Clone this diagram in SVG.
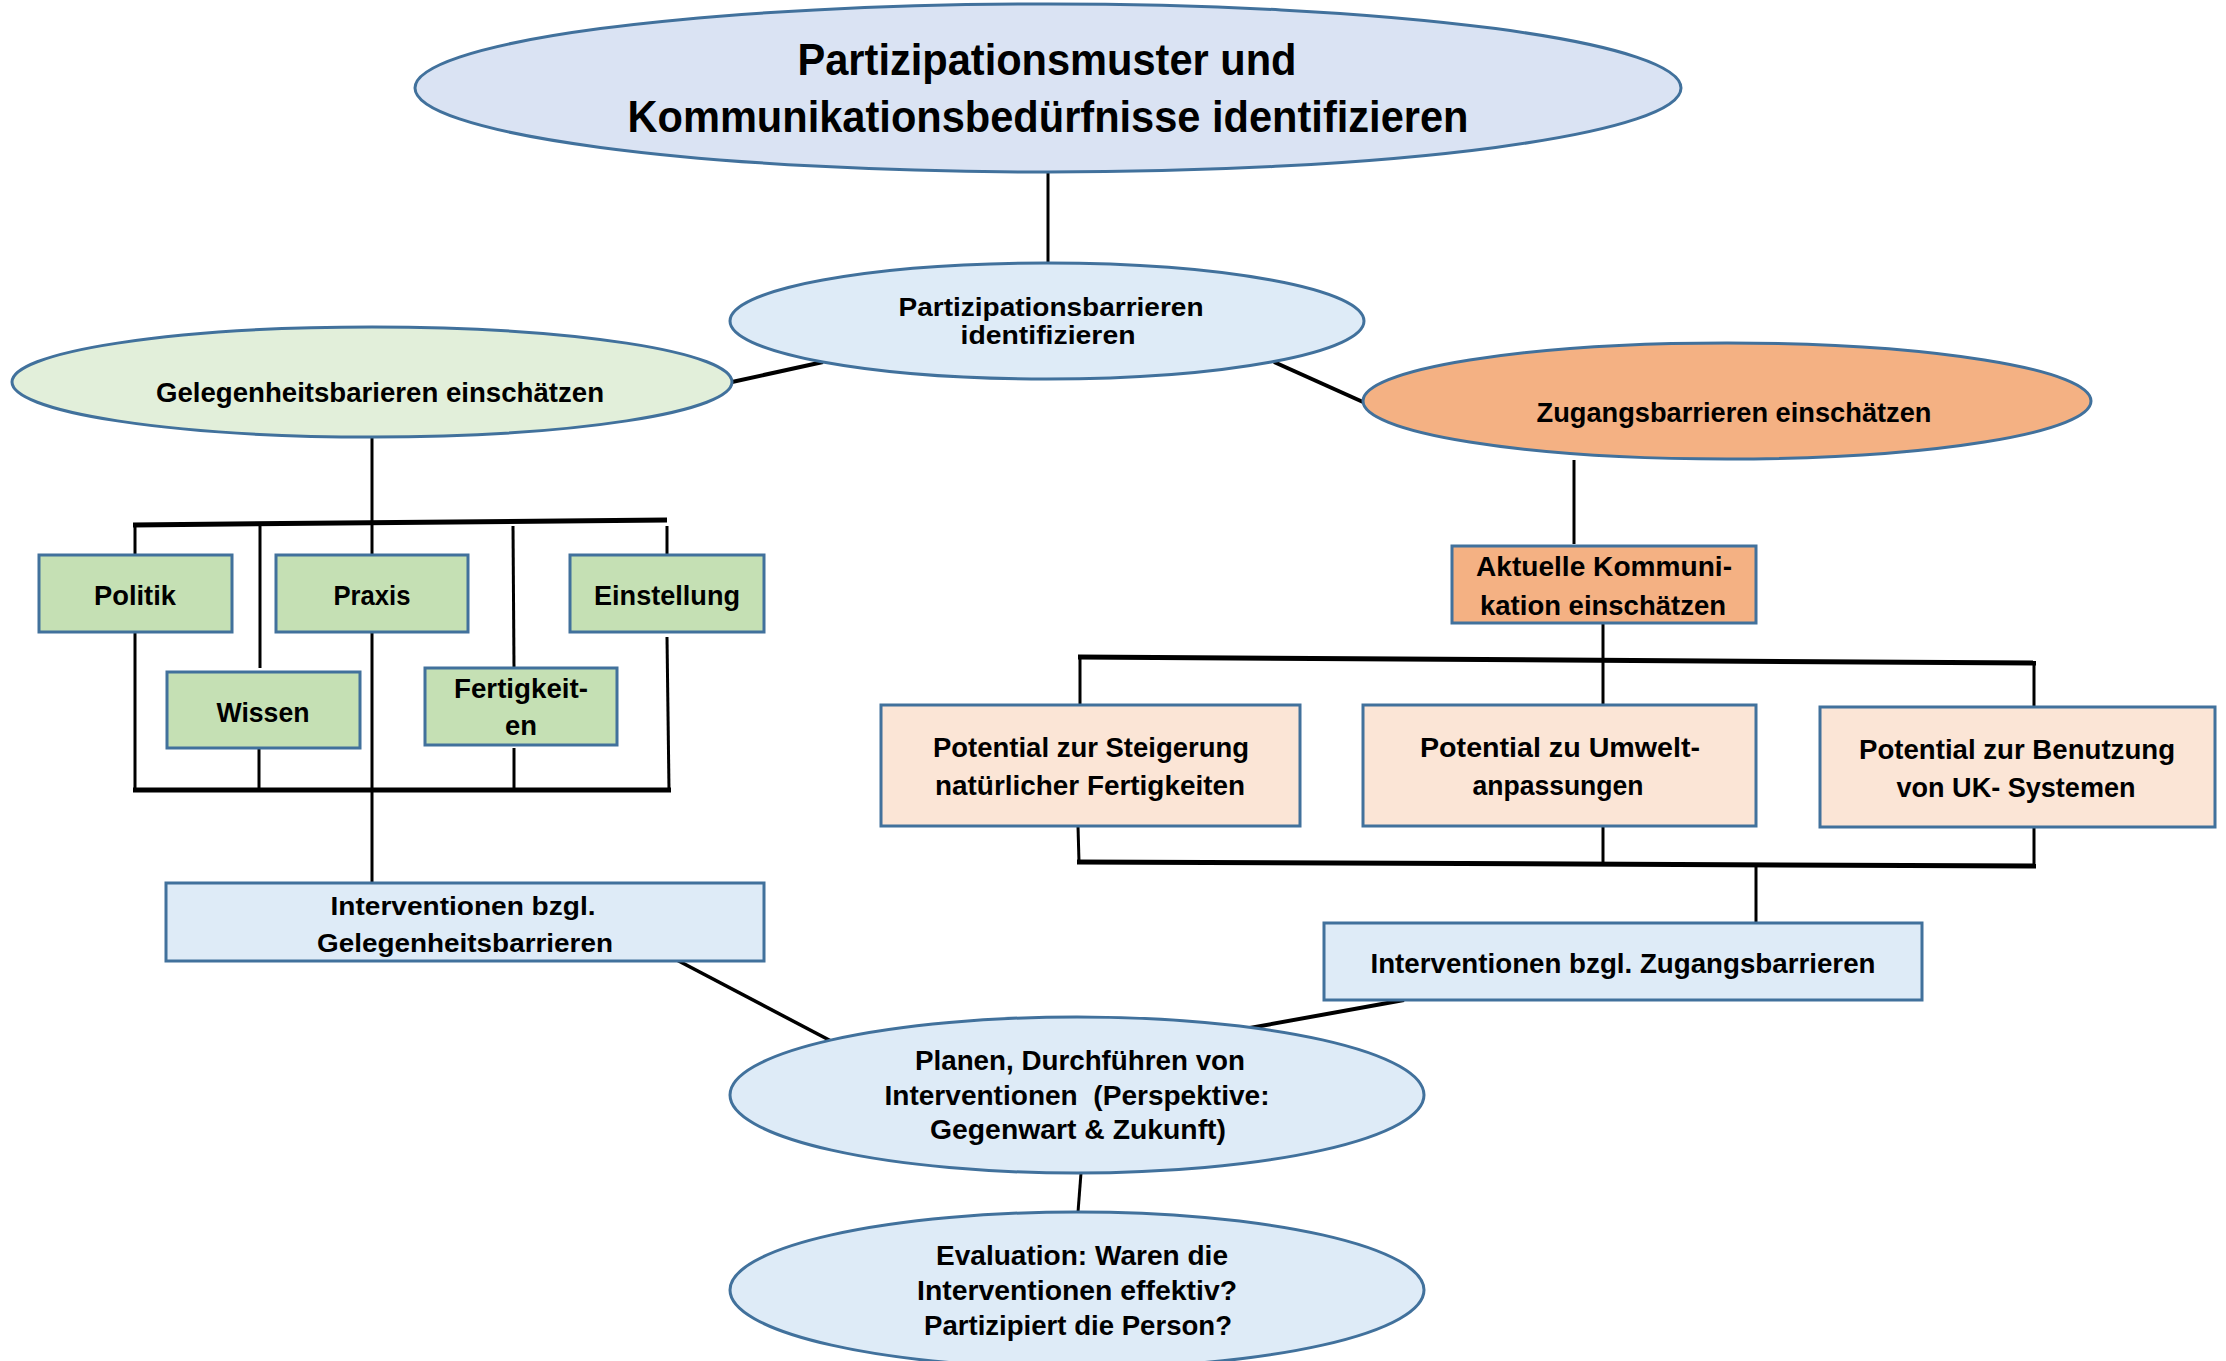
<svg xmlns="http://www.w3.org/2000/svg" width="2226" height="1361" viewBox="0 0 2226 1361">
<style>
.n{stroke:#41719c;stroke-width:3}
.t{font-family:"Liberation Sans Narrow","Liberation Sans",Arial,sans-serif;font-weight:bold;fill:#000;text-anchor:middle}
.c{stroke:#000;stroke-width:3;fill:none;stroke-linecap:butt}
.b{stroke-width:5}
</style>
<rect width="2226" height="1361" fill="#fff"/>
<g id="connectors">
<line class="c" x1="1048" y1="172" x2="1048" y2="262"/>
<line class="c" x1="823" y1="362" x2="732" y2="382" style="stroke-width:4"/>
<line class="c" x1="1274" y1="362" x2="1363" y2="402" style="stroke-width:4"/>
<line class="c" x1="372" y1="437" x2="372" y2="522"/>
<line class="c b" x1="133" y1="525" x2="667" y2="520"/>
<line class="c" x1="135" y1="525" x2="135" y2="555"/>
<line class="c" x1="260" y1="525" x2="260" y2="668"/>
<line class="c" x1="372" y1="522" x2="372" y2="555"/>
<line class="c" x1="513" y1="526" x2="514" y2="668"/>
<line class="c" x1="667" y1="526" x2="667" y2="555"/>
<line class="c" x1="135" y1="632" x2="135" y2="790"/>
<line class="c" x1="259" y1="747" x2="259" y2="788"/>
<line class="c" x1="372" y1="626" x2="372" y2="883"/>
<line class="c" x1="514" y1="748" x2="514" y2="788"/>
<line class="c" x1="667" y1="637" x2="669" y2="790"/>
<line class="c b" x1="133" y1="790" x2="671" y2="790"/>
<line class="c" x1="673" y1="958" x2="831" y2="1041" style="stroke-width:3.5"/>
<line class="c" x1="1574" y1="460" x2="1574" y2="544"/>
<line class="c" x1="1603" y1="623" x2="1603" y2="705"/>
<line class="c b" x1="1078" y1="657" x2="2036" y2="663"/>
<line class="c" x1="1080" y1="658" x2="1080" y2="709"/>
<line class="c" x1="2034" y1="663" x2="2034" y2="709"/>
<line class="c" x1="1078" y1="826" x2="1079" y2="862"/>
<line class="c" x1="1603" y1="826" x2="1603" y2="862"/>
<line class="c" x1="2034" y1="827" x2="2034" y2="866"/>
<line class="c b" x1="1077" y1="862" x2="2036" y2="866"/>
<line class="c" x1="1756" y1="864" x2="1756" y2="922"/>
<line class="c" x1="1404" y1="1000" x2="1244" y2="1029" style="stroke-width:4"/>
<line class="c" x1="1081" y1="1173" x2="1078" y2="1212"/>
</g>
<g id="n-title">
<ellipse class="n" cx="1048" cy="88" rx="633" ry="84" fill="#dae3f3"/>
<text class="t" x="1047" y="75" font-size="44" textLength="499" lengthAdjust="spacingAndGlyphs">Partizipationsmuster und</text>
<text class="t" x="1048" y="132" font-size="44" textLength="841" lengthAdjust="spacingAndGlyphs">Kommunikationsbedürfnisse identifizieren</text>
</g>
<g id="n-partizipationsbarrieren">
<ellipse class="n" cx="1047" cy="321" rx="317" ry="58" fill="#deebf7"/>
<text class="t" x="1051" y="316" font-size="26" textLength="305" lengthAdjust="spacingAndGlyphs">Partizipationsbarrieren</text>
<text class="t" x="1048" y="344" font-size="26" textLength="175" lengthAdjust="spacingAndGlyphs">identifizieren</text>
</g>
<g id="n-gelegenheit">
<ellipse class="n" cx="372" cy="382" rx="360" ry="55" fill="#e2efda"/>
<text class="t" x="380" y="402" font-size="28" textLength="448" lengthAdjust="spacingAndGlyphs">Gelegenheitsbarieren einschätzen</text>
</g>
<g id="n-zugang">
<ellipse class="n" cx="1727" cy="401" rx="364" ry="58" fill="#f4b183"/>
<text class="t" x="1734" y="422" font-size="28" textLength="395" lengthAdjust="spacingAndGlyphs">Zugangsbarrieren einschätzen</text>
</g>
<g id="n-politik">
<rect class="n" x="39" y="555" width="193" height="77" fill="#c5e0b4"/>
<text class="t" x="135" y="605" font-size="28" textLength="82" lengthAdjust="spacingAndGlyphs">Politik</text>
</g>
<g id="n-praxis">
<rect class="n" x="276" y="555" width="192" height="77" fill="#c5e0b4"/>
<text class="t" x="372" y="605" font-size="28" textLength="77" lengthAdjust="spacingAndGlyphs">Praxis</text>
</g>
<g id="n-einstellung">
<rect class="n" x="570" y="555" width="194" height="77" fill="#c5e0b4"/>
<text class="t" x="667" y="605" font-size="28" textLength="146" lengthAdjust="spacingAndGlyphs">Einstellung</text>
</g>
<g id="n-wissen">
<rect class="n" x="167" y="672" width="193" height="76" fill="#c5e0b4"/>
<text class="t" x="263" y="722" font-size="28" textLength="93" lengthAdjust="spacingAndGlyphs">Wissen</text>
</g>
<g id="n-fertigkeiten">
<rect class="n" x="425" y="668" width="192" height="77" fill="#c5e0b4"/>
<text class="t" x="521" y="698" font-size="28" textLength="134" lengthAdjust="spacingAndGlyphs">Fertigkeit-</text>
<text class="t" x="521" y="735" font-size="28" textLength="32" lengthAdjust="spacingAndGlyphs">en</text>
</g>
<g id="n-int-gelegenheit">
<rect class="n" x="166" y="883" width="598" height="78" fill="#deebf7"/>
<text class="t" x="463" y="915" font-size="26" textLength="265" lengthAdjust="spacingAndGlyphs">Interventionen bzgl.</text>
<text class="t" x="465" y="952" font-size="26" textLength="296" lengthAdjust="spacingAndGlyphs">Gelegenheitsbarrieren</text>
</g>
<g id="n-aktuelle">
<rect class="n" x="1452" y="546" width="304" height="77" fill="#f4b183"/>
<text class="t" x="1604" y="576" font-size="27" textLength="256" lengthAdjust="spacingAndGlyphs">Aktuelle Kommuni-</text>
<text class="t" x="1603" y="615" font-size="27" textLength="246" lengthAdjust="spacingAndGlyphs">kation einschätzen</text>
</g>
<g id="n-steigerung">
<rect class="n" x="881" y="705" width="419" height="121" fill="#fbe5d6"/>
<text class="t" x="1091" y="757" font-size="27" textLength="316" lengthAdjust="spacingAndGlyphs">Potential zur Steigerung</text>
<text class="t" x="1090" y="795" font-size="27" textLength="310" lengthAdjust="spacingAndGlyphs">natürlicher Fertigkeiten</text>
</g>
<g id="n-umwelt">
<rect class="n" x="1363" y="705" width="393" height="121" fill="#fbe5d6"/>
<text class="t" x="1560" y="757" font-size="27" textLength="280" lengthAdjust="spacingAndGlyphs">Potential zu Umwelt-</text>
<text class="t" x="1558" y="795" font-size="27" textLength="171" lengthAdjust="spacingAndGlyphs">anpassungen</text>
</g>
<g id="n-benutzung">
<rect class="n" x="1820" y="707" width="395" height="120" fill="#fbe5d6"/>
<text class="t" x="2017" y="759" font-size="27" textLength="316" lengthAdjust="spacingAndGlyphs">Potential zur Benutzung</text>
<text class="t" x="2016" y="797" font-size="27" textLength="239" lengthAdjust="spacingAndGlyphs">von UK- Systemen</text>
</g>
<g id="n-int-zugang">
<rect class="n" x="1324" y="923" width="598" height="77" fill="#deebf7"/>
<text class="t" x="1623" y="973" font-size="27" textLength="505" lengthAdjust="spacingAndGlyphs">Interventionen bzgl. Zugangsbarrieren</text>
</g>
<g id="n-planen">
<ellipse class="n" cx="1077" cy="1095" rx="347" ry="78" fill="#deebf7"/>
<text class="t" x="1080" y="1070" font-size="27" textLength="330" lengthAdjust="spacingAndGlyphs">Planen, Durchführen von</text>
<text class="t" x="1077" y="1105" font-size="27" textLength="385" lengthAdjust="spacingAndGlyphs" style="white-space:pre">Interventionen  (Perspektive:</text>
<text class="t" x="1078" y="1139" font-size="27" textLength="296" lengthAdjust="spacingAndGlyphs">Gegenwart &amp; Zukunft)</text>
</g>
<g id="n-evaluation">
<ellipse class="n" cx="1077" cy="1290" rx="347" ry="78" fill="#deebf7"/>
<text class="t" x="1082" y="1265" font-size="27" textLength="292" lengthAdjust="spacingAndGlyphs">Evaluation: Waren die</text>
<text class="t" x="1077" y="1300" font-size="27" textLength="320" lengthAdjust="spacingAndGlyphs">Interventionen effektiv?</text>
<text class="t" x="1078" y="1335" font-size="27" textLength="308" lengthAdjust="spacingAndGlyphs">Partizipiert die Person?</text>
</g>
</svg>
